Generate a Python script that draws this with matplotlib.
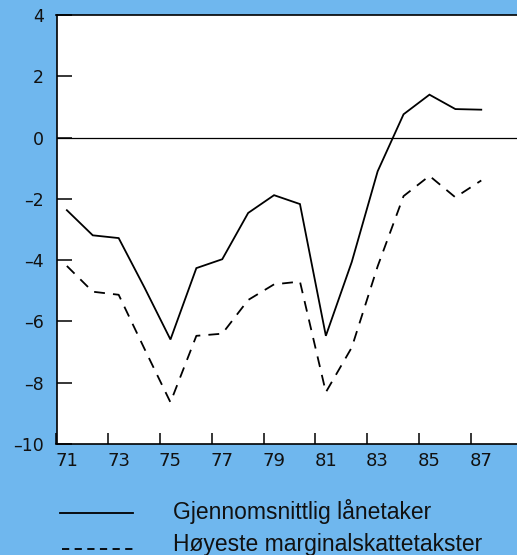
import matplotlib
matplotlib.use("Agg")
import matplotlib.pyplot as plt
from matplotlib.lines import Line2D

plt.rcParams['axes.unicode_minus'] = False

years = list(range(71, 88))
gjennomsnitt = [-2.37, -3.19, -3.28, -4.9, -6.59, -4.26, -3.97, -2.46, -1.88, -2.17,
                -6.47, -4.06, -1.10, 0.76, 1.40, 0.93, 0.91]
hoyeste = [-4.19, -5.03, -5.13, -6.9, -8.64, -6.47, -6.40, -5.30, -4.79, -4.70,
           -8.31, -6.85, -4.20, -1.91, -1.25, -1.95, -1.40]
xtick_years = [71, 73, 75, 77, 79, 81, 83, 85, 87]
yticks = [-10, -8, -6, -4, -2, 0, 2, 4]
legend_labels = ["Gjennomsnittlig lånetaker", "Høyeste marginalskattetakster"]

bg = '#6fb7ee'
W, H = 517, 555
fig = plt.figure(figsize=(W / 100, H / 100), dpi=100, facecolor=bg)

left_px, right_px, top_px, bot_px = 56.5, 517, 15, 444
ax = fig.add_axes([left_px / W, 1 - bot_px / H, (right_px - left_px) / W, (bot_px - top_px) / H])
ax.set_facecolor('white')

off = 0.4
xs = [y + off for y in years]
ax.plot(xs, gjennomsnitt, color='black', lw=1.3, solid_joinstyle='miter')
ax.plot(xs, hoyeste, color='black', lw=1.3, dashes=(6, 4.5))
ax.axhline(0, color='black', lw=0.9)

ax.set_xlim(71, 71 + (right_px - left_px) / 25.9)
ax.set_ylim(-10, 4)

for s in ['left', 'bottom', 'top']:
    ax.spines[s].set_linewidth(1.2)
    ax.spines[s].set_color('black')
ax.spines['right'].set_visible(False)

ax.set_xticks(xtick_years)
ax.set_xticklabels([])
ax.tick_params(axis='x', which='major', direction='in', length=8, width=1.1)
ax.set_xticks([y + off for y in xtick_years], minor=True)
ax.set_xticklabels([str(y) for y in xtick_years], minor=True, fontsize=13,
                   family='DejaVu Sans', color='#111111')
ax.tick_params(axis='x', which='minor', length=0, pad=6)

ax.set_yticks(yticks)
ax.set_yticklabels([str(v).replace('-', '\u2013') for v in yticks], fontsize=12.5,
                   family='DejaVu Sans', color='#111111')
ax.tick_params(axis='y', direction='in', length=11, width=1.1, pad=9)

# legend
fig.add_artist(Line2D([60 / W, 133 / W], [1 - 513 / H, 1 - 513 / H], color='black', lw=1.3,
                      transform=fig.transFigure))
fig.add_artist(Line2D([62 / W, 135 / W], [1 - 549 / H, 1 - 549 / H], color='black', lw=1.3,
                      dashes=(4, 3), transform=fig.transFigure))
fig.text(173 / W, 1 - 511 / H, legend_labels[0], fontsize=16.5, family='Liberation Sans',
         va='center', ha='left', color='#111111')
fig.text(173 / W, 1 - 545 / H, legend_labels[1], fontsize=16.5, family='Liberation Sans',
         va='center', ha='left', color='#111111')

fig.savefig('out.png', dpi=100, facecolor=bg)
